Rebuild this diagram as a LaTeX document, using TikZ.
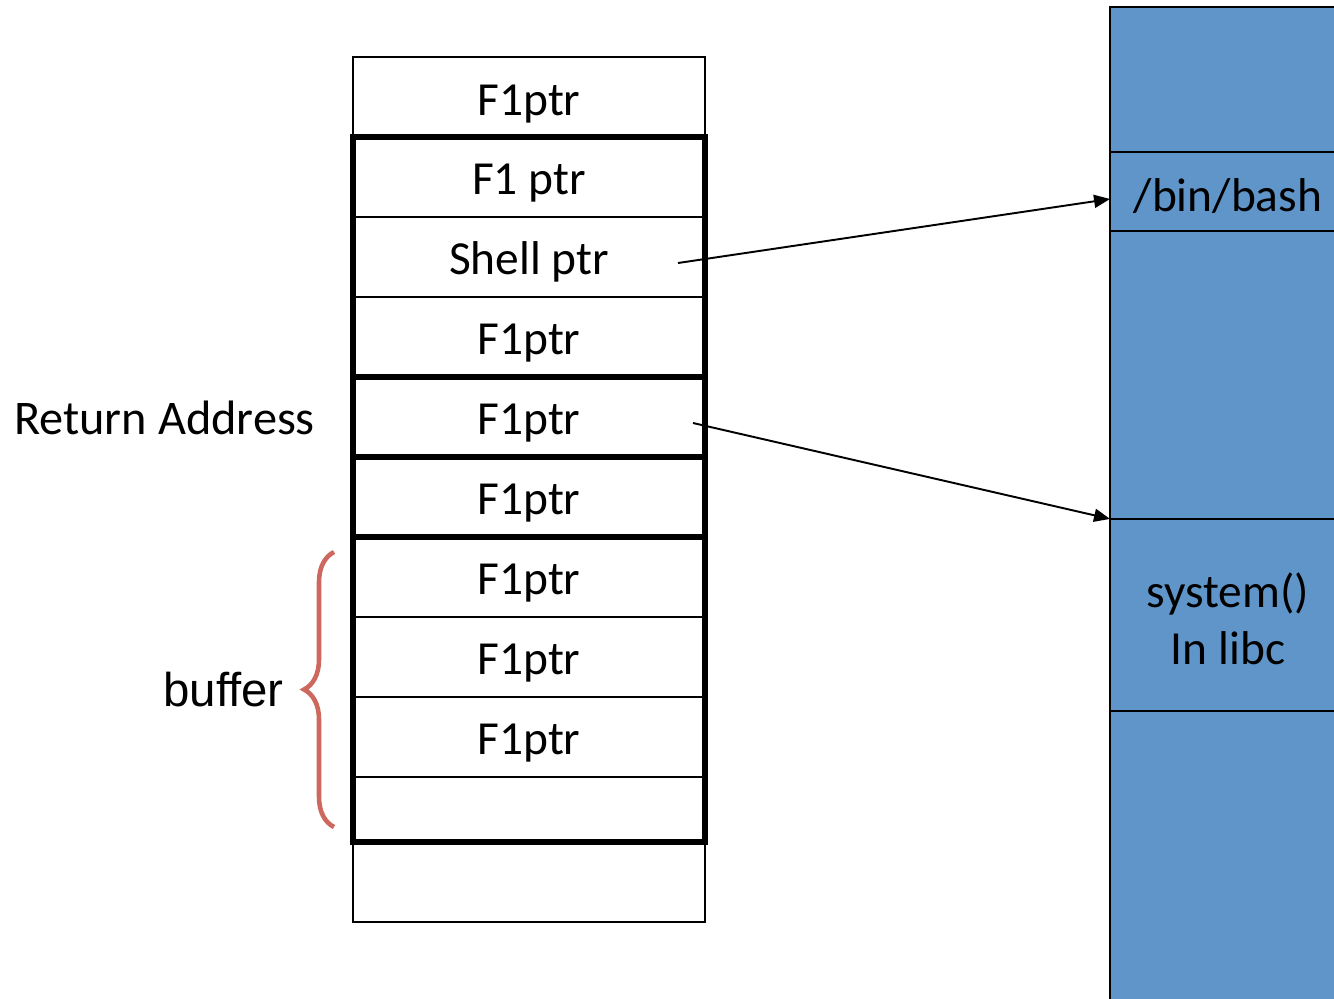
\documentclass[tikz,border=0pt]{standalone}
\usepackage{fontspec}
\setmainfont{Carlito}
\newfontfamily\arialfont{Liberation Sans}
\usetikzlibrary{positioning,arrows.meta,decorations.pathreplacing}

\definecolor{memblue}{RGB}{96,149,201}
\definecolor{bracered}{RGB}{205,104,94}

\tikzset{
  cell/.style={draw, line width=1.1pt, minimum width=7.04cm, minimum height=1.6cm,
    inner sep=0pt, outer sep=0pt, text height=0.92cm, text depth=0.2cm,
    font=\fontsize{27}{32}\selectfont},
  frame/.style={line width=3.6pt},
  memcell/.style={draw, fill=memblue, line width=1.1pt, minimum width=4.72cm,
    inner sep=0pt, outer sep=0pt, align=center, font=\fontsize{27}{32}\selectfont},
  ptrarrow/.style={line width=1.1pt, -{Triangle[length=0.32cm,width=0.26cm]}}
}

\begin{document}
\begin{tikzpicture}[x=0.02cm, y=-0.02cm]
\useasboundingbox (0,0) rectangle (1334,998);

% the stack
\node[cell] (c1) at (529,97) {F1ptr};
\node[cell, below=0pt of c1] (c2) {F1 ptr};
\node[cell, below=0pt of c2] (c3) {Shell ptr};
\node[cell, below=0pt of c3] (c4) {F1ptr};
\node[cell, below=0pt of c4] (c5) {F1ptr};
\node[cell, below=0pt of c5] (c6) {F1ptr};
\node[cell, below=0pt of c6] (c7) {F1ptr};
\node[cell, below=0pt of c7] (c8) {F1ptr};
\node[cell, below=0pt of c8] (c9) {F1ptr};
\node[cell, below=0pt of c9, minimum height=1.3cm] (c10) {};
\node[cell, below=0pt of c10] (c11) {};

% frames
\draw[frame] (c2.north west) rectangle (c4.south east);
\draw[frame] (c5.north west) rectangle (c5.south east);
\draw[frame] (c6.north west) rectangle (c6.south east);
\draw[frame] (c7.north west) rectangle (c10.south east);

\node[font=\fontsize{27.5}{32}\selectfont, text height=0.92cm, text depth=0.2cm,
  left=0.64cm of c5] (ret) {Return Address};

% buffer brace
\coordinate (bb) at (334,827);
\coordinate (bt) at (334,552);
\draw[bracered, line width=2.6pt, decorate,
  decoration={brace, amplitude=0.6cm, aspect=0.5}] (bb) -- (bt);
\node[font=\arialfont\fontsize{27}{32}\selectfont, anchor=east] (buf) at (290,690) {buffer};

% memory on the right
\node[memcell, minimum height=2.9cm] (m1) at (1228,79.5) {};
\node[memcell, minimum height=1.58cm, below=0pt of m1,
  text height=1.0cm, text depth=0.2cm] (bash) {/bin/bash};
\node[memcell, minimum height=5.76cm, below=0pt of bash] (m3) {};
\node[memcell, minimum height=3.84cm, below=0pt of m3,
  text height=2.17cm, text depth=0.2cm] (sys) {system()\\In libc};
\node[memcell, minimum height=5.8cm, below=0pt of sys] (m5) {};

% pointers
\coordinate (shellsrc) at (678,263);
\coordinate (retsrc) at (693,423);
\draw[ptrarrow] (shellsrc) -- ([yshift=-0.15cm]bash.west);
\draw[ptrarrow] (retsrc) -- (sys.north west);

\end{tikzpicture}
\end{document}
